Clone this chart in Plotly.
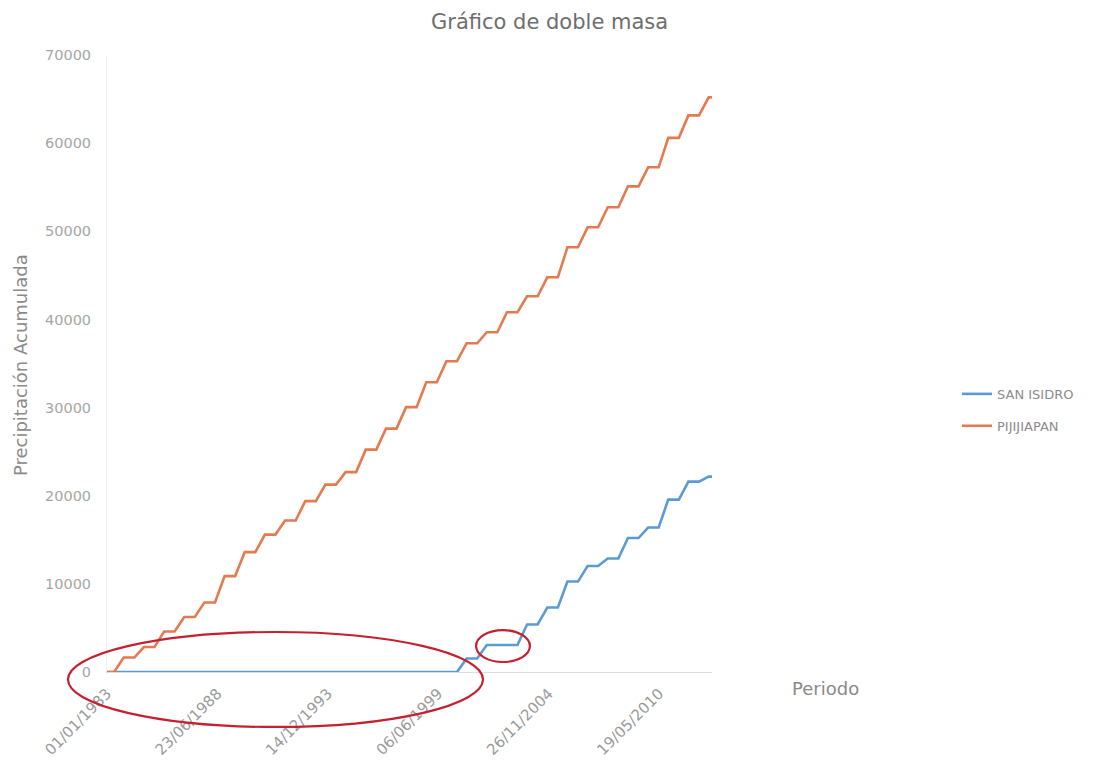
import plotly.graph_objects as go

# Hydrological years covered by both stations
years = [1983, 1984, 1985, 1986, 1987, 1988, 1989, 1990, 1991, 1992,
         1993, 1994, 1995, 1996, 1997, 1998, 1999, 2000, 2001, 2002,
         2003, 2004, 2005, 2006, 2007, 2008, 2009, 2010, 2011, 2012]

# Accumulated precipitation (mm) at the end of each rainy season
pijijiapan = [1640, 2830, 4590, 6240, 7880, 10880, 13600, 15590, 17180, 19390,
              21260, 22680, 25230, 27610, 30050, 32880, 35260, 37300, 38550, 40820,
              42630, 44780, 48190, 50450, 52720, 55100, 57260, 60600, 63150, 65190]
san_isidro = [0, 0, 0, 0, 0, 0, 0, 0, 0, 0,
              0, 0, 0, 0, 0, 0, 0, 1530, 3060, 3060,
              5390, 7310, 10260, 12020, 12870, 15200, 16390, 19560, 21600, 22170]

# Period limits and axis ticks (every 2000 days)
period_start = "1983-01-01"
period_end = "2012-12-31"
tick_dates = ["1983-01-01", "1988-06-23", "1993-12-14", "1999-06-06", "2004-11-26", "2010-05-19"]
tick_labels = ["01/01/1983", "23/06/1988", "14/12/1993", "06/06/1999", "26/11/2004", "19/05/2010"]

# Rainy season window used to place each year's rise
wet_start = "-05-10"
wet_end = "-10-31"


def mass_curve(totals):
    xs, ys = [period_start], [0]
    prev = 0
    for yr, tot in zip(years, totals):
        xs += [f"{yr}{wet_start}", f"{yr}{wet_end}"]
        ys += [prev, tot]
        prev = tot
    xs.append(period_end)
    ys.append(prev)
    return xs, ys


FONT = "DejaVu Sans"

fig = go.Figure()
x_si, y_si = mass_curve(san_isidro)
x_pj, y_pj = mass_curve(pijijiapan)
fig.add_trace(go.Scatter(x=x_si, y=y_si, mode="lines", name="SAN ISIDRO",
                         legendgroup="a", line=dict(color="#5b9bd5", width=2.6)))
fig.add_trace(go.Scatter(x=x_pj, y=y_pj, mode="lines", name="PIJIJIAPAN",
                         legendgroup="b", line=dict(color="#e37a50", width=2.6)))

fig.update_layout(
    width=1097, height=763,
    margin=dict(l=107, r=385, t=55, b=91),
    paper_bgcolor="white", plot_bgcolor="white",
    font=dict(family=FONT, color="#9a9a9a"),
    title=dict(text="Gráfico de doble masa", x=0.501, xref="container",
               y=1 - 22 / 763, yref="container", xanchor="center", yanchor="middle",
               font=dict(family=FONT, size=21, color="#6e6e6e")),
    xaxis=dict(type="date", range=[period_start, period_end], automargin=False,
               tickvals=tick_dates, ticktext=tick_labels, tickangle=-45,
               tickfont=dict(family=FONT, size=15, color="#9a9a9a"),
               ticklabelstandoff=6,
               showgrid=False, zeroline=False,
               showline=True, linecolor="#dcdcdc", linewidth=1, ticks=""),
    yaxis=dict(range=[0, 70000], dtick=10000, tickformat="d", automargin=False,
               tickfont=dict(family=FONT, size=14.5, color="#a6a6a6"),
               ticklabelstandoff=12,
               showgrid=False, zeroline=False,
               showline=True, linecolor="#f0f0f0", linewidth=1, ticks=""),
    legend=dict(x=1.405, y=0.475, xanchor="left", yanchor="top",
                tracegroupgap=12, bgcolor="rgba(0,0,0,0)",
                font=dict(family=FONT, size=13, color="#8c8c8c")),
    showlegend=True,
)

# Axis titles
fig.add_annotation(text="Precipitación Acumulada", textangle=-90,
                   x=-0.142, y=0.4976, xref="paper", yref="paper",
                   xanchor="center", yanchor="middle",
                   showarrow=False, font=dict(family=FONT, size=18, color="#8a8a8a"))
fig.add_annotation(text="Periodo", x=1.188, y=-0.026, xref="paper", yref="paper",
                   xanchor="center", yanchor="middle",
                   showarrow=False, font=dict(family=FONT, size=18, color="#8a8a8a"))

# Hand-drawn highlight ellipses
fig.add_shape(type="circle", xref="paper", yref="paper",
              x0=-0.0645, x1=0.6215, y0=-0.0891, y1=0.0648,
              line=dict(color="#c4202e", width=2.2))
fig.add_shape(type="circle", xref="paper", yref="paper",
              x0=0.610, x1=0.699, y0=0.0162, y1=0.068,
              line=dict(color="#c4202e", width=2.2))

fig.write_html("out.html")
